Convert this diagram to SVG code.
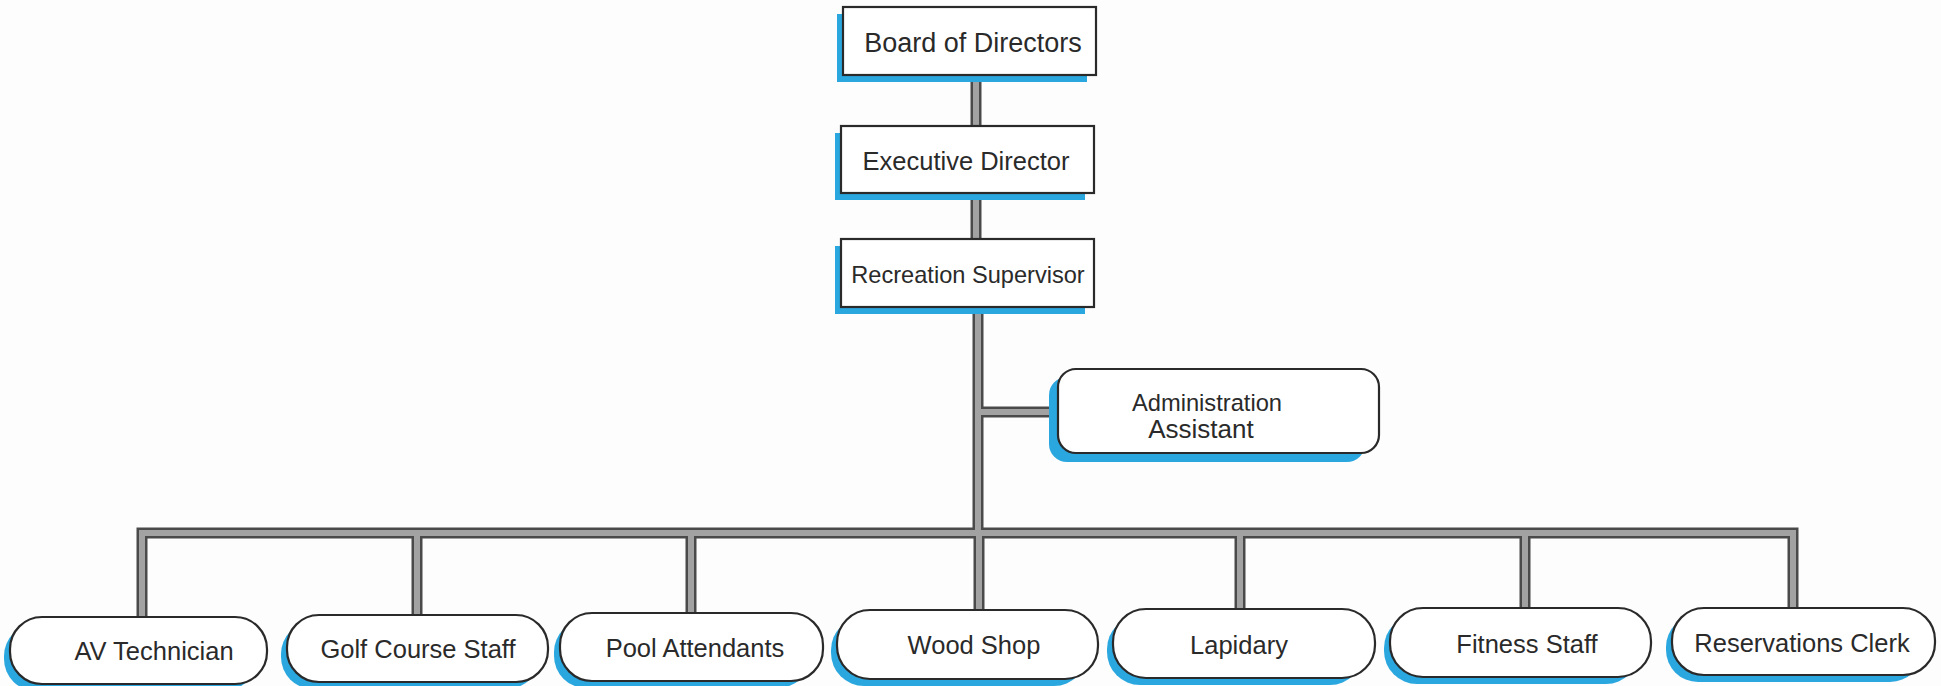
<svg xmlns="http://www.w3.org/2000/svg" width="1941" height="686" viewBox="0 0 1941 686">
<style>
.bg{fill:#fdfdfd}
.shadow{fill:#2aa7df}
.box{fill:#ffffff;stroke:#2a2a2a;stroke-width:2.2}
.txt{font-family:"Liberation Sans",Arial,sans-serif;fill:#2a2a2a;text-anchor:middle}
.bt{font-size:25.5px}
.lo{fill:none;stroke:#4a4a4a;stroke-width:11;stroke-linecap:square;stroke-linejoin:miter}
.li{fill:none;stroke:#a2a2a2;stroke-width:6;stroke-linecap:square;stroke-linejoin:miter}
</style>
<rect class="bg" x="0" y="0" width="1941" height="686"/>
<g id="connectors">
<path class="lo" d="M976,75 V126 M976,193 V239 M978,307 V531 M978,412 H1056 M142,617 V533 H1793 V608 M417,615 V533 M691,613 V533 M979,610 V533 M1240,609 V533 M1525,608 V533"/>
<path class="li" d="M976,75 V126 M976,193 V239 M978,307 V531 M978,412 H1056 M142,617 V533 H1793 V608 M417,615 V533 M691,613 V533 M979,610 V533 M1240,609 V533 M1525,608 V533"/>
</g>
<g id="board">
<rect class="shadow" x="837" y="14" width="250" height="68"/>
<rect class="box" x="843" y="7" width="253" height="68"/>
<text class="txt" x="973" y="52" font-size="27">Board of Directors</text>
</g>
<g id="executive">
<rect class="shadow" x="835" y="133" width="250" height="67"/>
<rect class="box" x="841" y="126" width="253" height="67"/>
<text class="txt" x="966" y="170" font-size="25.5">Executive Director</text>
</g>
<g id="recreation">
<rect class="shadow" x="835" y="246" width="250" height="68"/>
<rect class="box" x="841" y="239" width="253" height="68"/>
<text class="txt" x="968" y="283" font-size="23.6">Recreation Supervisor</text>
</g>
<g id="admin">
<rect class="shadow" x="1049" y="377" width="316" height="85" rx="18"/>
<rect class="box" x="1058" y="369" width="321" height="84" rx="18"/>
<text class="txt" x="1207" y="411" font-size="23.7">Administration</text>
<text class="txt" x="1201" y="438" font-size="26">Assistant</text>
</g>
<g id="av">
<rect class="shadow" x="4" y="624" width="252" height="67" rx="32"/>
<rect class="box" x="10" y="617" width="257" height="67" rx="32"/>
<text class="txt bt" x="154" y="660">AV Technician</text>
</g>
<g id="golf">
<rect class="shadow" x="281" y="622" width="258" height="67" rx="32"/>
<rect class="box" x="287" y="615" width="261" height="67" rx="32"/>
<text class="txt bt" x="418" y="658">Golf Course Staff</text>
</g>
<g id="pool">
<rect class="shadow" x="554" y="620" width="256" height="68" rx="32"/>
<rect class="box" x="560" y="613" width="263" height="68" rx="32"/>
<text class="txt bt" x="695" y="657">Pool Attendants</text>
</g>
<g id="wood">
<rect class="shadow" x="831" y="617" width="256" height="69" rx="33"/>
<rect class="box" x="837" y="610" width="261" height="69" rx="33"/>
<text class="txt bt" x="974" y="654">Wood Shop</text>
</g>
<g id="lapidary">
<rect class="shadow" x="1107" y="616" width="256" height="69" rx="33"/>
<rect class="box" x="1113" y="609" width="262" height="69" rx="33"/>
<text class="txt bt" x="1239" y="654">Lapidary</text>
</g>
<g id="fitness">
<rect class="shadow" x="1384" y="615" width="255" height="69" rx="33"/>
<rect class="box" x="1390" y="608" width="261" height="69" rx="33"/>
<text class="txt bt" x="1527" y="653">Fitness Staff</text>
</g>
<g id="reservations">
<rect class="shadow" x="1666" y="615" width="256" height="67" rx="32"/>
<rect class="box" x="1672" y="608" width="263" height="67" rx="32"/>
<text class="txt bt" x="1802" y="652">Reservations Clerk</text>
</g>
</svg>
